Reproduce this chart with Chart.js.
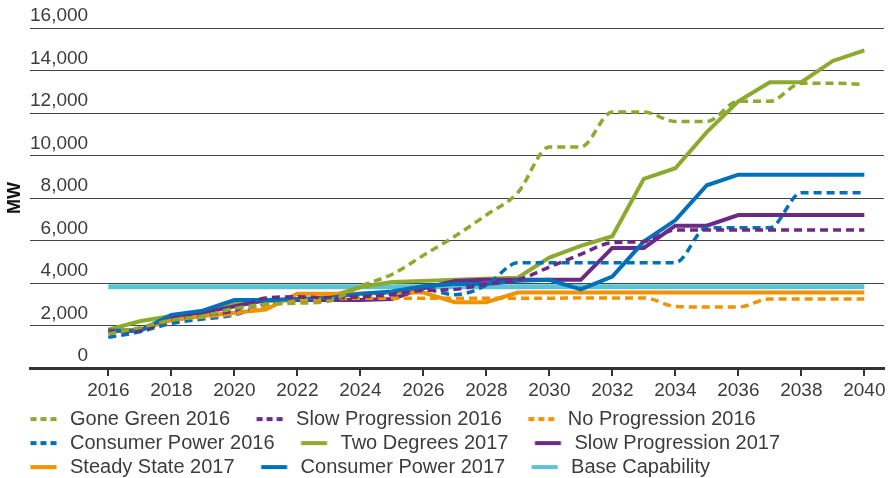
<!DOCTYPE html>
<html lang="en">
<head>
    <meta charset="UTF-8">
    <title>Capacity scenarios (MW)</title>
    <script src="https://cdn.jsdelivr.net/npm/chart.js"></script>
    <style>
        body { margin: 0; background: #fff; }
    </style>
</head>
<body>
    <canvas id="myChart" width="894" height="478"></canvas>
    <script>
        const years = [2016, 2017, 2018, 2019, 2020, 2021, 2022, 2023, 2024, 2025, 2026, 2027, 2028,
                       2029, 2030, 2031, 2032, 2033, 2034, 2035, 2036, 2037, 2038, 2039, 2040];
        const tickYears = [2016, 2018, 2020, 2022, 2024, 2026, 2028, 2030, 2032, 2034, 2036, 2038, 2040];

        const goneGreen2016 = [1600, 1900, 2250, 2450, 2800, 3000, 3050, 3150, 3850, 4400, 5300, 6200, 7200,
                               8250, 10400, 10400, 12050, 12050, 11600, 11600, 12550, 12550, 13400, 13400, 13350];
        const slowProgression2016 = [1700, 1750, 2300, 2500, 2700, 3300, 3350, 3300, 3350, 3450, 3650, 3700, 3950,
                                     4150, 4750, 5350, 5900, 5950, 6500, 6500, 6500, 6500, 6500, 6500, 6500];
        const noProgression2016 = [1700, 1800, 2250, 2400, 2550, 2900, 3150, 3250, 3280, 3280, 3280, 3280, 3280,
                                   3280, 3280, 3300, 3300, 3300, 2900, 2870, 2870, 3250, 3250, 3250, 3250];
        const consumerPower2016 = [1450, 1700, 2100, 2300, 2500, 3000, 3250, 3300, 3400, 3550, 3700, 3450, 3900,
                                   4950, 4950, 4950, 4950, 4950, 4950, 6600, 6600, 6600, 8250, 8250, 8250];
        const twoDegrees2017 = [1800, 2200, 2450, 2650, 3050, 3150, 3200, 3350, 3800, 4050, 4100, 4150, 4200,
                                4250, 5200, 5750, 6200, 8900, 9400, 11100, 12550, 13450, 13450, 14450, 14950];
        const slowProgression2017 = [1750, 1750, 2400, 2600, 2900, 3200, 3200, 3200, 3200, 3250, 3750, 4100, 4150,
                                     4150, 4150, 4150, 5650, 5650, 6700, 6700, 7200, 7200, 7200, 7200, 7200];
        const steadyState2017 = [1750, 1800, 2250, 2450, 2600, 2750, 3500, 3500, 3500, 3550, 3550, 3100, 3100,
                                 3550, 3550, 3550, 3550, 3550, 3550, 3550, 3550, 3550, 3550, 3550, 3550];
        const consumerPower2017 = [1750, 1750, 2500, 2700, 3200, 3200, 3250, 3300, 3500, 3600, 3850, 3950, 3950,
                                   4100, 4150, 3700, 4300, 5950, 6950, 8600, 9100, 9100, 9100, 9100, 9100];
        const baseCapability = [3820, 3820, 3820, 3820, 3820, 3820, 3820, 3820, 3820, 3820, 3820, 3820, 3820,
                                3820, 3820, 3820, 3820, 3820, 3820, 3820, 3820, 3820, 3820, 3820, 3820];

        const GREEN = '#8BAA2E';
        const PURPLE = '#6B2A86';
        const ORANGE = '#F39200';
        const BLUE = '#0070B8';
        const CYAN = '#5BC3D4';
        const TEXT = '#3c3c3c';
        const FONT = "'Liberation Sans', Arial, sans-serif";

        // short line swatch used as the legend symbol
        function swatch(color, dashed) {
            const c = document.createElement('canvas');
            c.width = 52;
            c.height = 8;
            const g = c.getContext('2d');
            g.strokeStyle = color;
            g.lineWidth = 4;
            if (dashed) g.setLineDash([6, 4]);
            g.beginPath();
            g.moveTo(22.5, 4);
            g.lineTo(48.5, 4);
            g.stroke();
            return c;
        }

        function series(label, values, color, dashed, order) {
            return {
                label: label,
                data: values.map((v, i) => ({ x: years[i], y: v })),
                borderColor: color,
                backgroundColor: color,
                borderWidth: dashed ? 3.5 : 4,
                borderDash: dashed ? [8, 5] : [],
                cubicInterpolationMode: dashed ? 'monotone' : 'default',
                tension: 0,
                pointRadius: 0,
                order: order,
                swatch: swatch(color, dashed)
            };
        }

        const datasets = [
            series('Gone Green 2016', goneGreen2016, GREEN, true, 1),
            series('Slow Progression 2016', slowProgression2016, PURPLE, true, 2),
            series('No Progression 2016', noProgression2016, ORANGE, true, 3),
            series('Consumer Power 2016', consumerPower2016, BLUE, true, 4),
            series('Two Degrees 2017', twoDegrees2017, GREEN, false, 8),
            series('Slow Progression 2017', slowProgression2017, PURPLE, false, 7),
            series('Steady State 2017', steadyState2017, ORANGE, false, 6),
            series('Consumer Power 2017', consumerPower2017, BLUE, false, 5),
            series('Base Capability', baseCapability, CYAN, false, 9)
        ];
        datasets[8].borderWidth = 5;

        const ctx = document.getElementById('myChart').getContext('2d');
        new Chart(ctx, {
            type: 'line',
            data: { datasets: datasets },
            options: {
                responsive: false,
                animation: false,
                layout: { padding: { top: 28, right: 10, bottom: -9.1, left: 4 } },
                plugins: {
                    tooltip: { enabled: false },
                    legend: {
                        position: 'bottom',
                        align: 'start',
                        labels: {
                            color: TEXT,
                            font: { family: FONT, size: 20 },
                            padding: 4,
                            usePointStyle: true,
                            pointStyleWidth: 52,
                            sort: (a, b) => a.datasetIndex - b.datasetIndex,
                            generateLabels: (chart) => Chart.defaults.plugins.legend.labels.generateLabels(chart)
                                .map(item => Object.assign(item, { pointStyle: datasets[item.datasetIndex].swatch }))
                        }
                    }
                },
                scales: {
                    x: {
                        type: 'linear',
                        min: 2013.514,
                        max: 2040.625,
                        afterBuildTicks: (scale) => {
                            scale.ticks = tickYears.map(v => ({ value: v }));
                        },
                        ticks: {
                            color: TEXT,
                            font: { family: FONT, size: 19, lineHeight: 0.9 },
                            padding: 6,
                            maxRotation: 0,
                            autoSkip: false,
                            callback: (value) => String(value)
                        },
                        grid: {
                            display: true,
                            drawOnChartArea: false,
                            drawTicks: true,
                            tickLength: 8,
                            lineWidth: 2,
                            color: '#333'
                        },
                        border: { display: true, color: '#333', width: 3 }
                    },
                    y: {
                        min: 0,
                        max: 16000,
                        ticks: {
                            stepSize: 2000,
                            mirror: true,
                            crossAlign: 'far',
                            padding: 0,
                            labelOffset: -12,
                            color: TEXT,
                            font: { family: FONT, size: 19 }
                        },
                        grid: { color: '#444', lineWidth: 1, drawTicks: false },
                        border: { display: false },
                        title: {
                            display: true,
                            text: 'MW',
                            color: '#111',
                            font: { family: FONT, size: 18, weight: 'bold', lineHeight: 1 },
                            padding: { top: 2, bottom: 6 }
                        }
                    }
                }
            }
        });
    </script>
</body>
</html>
